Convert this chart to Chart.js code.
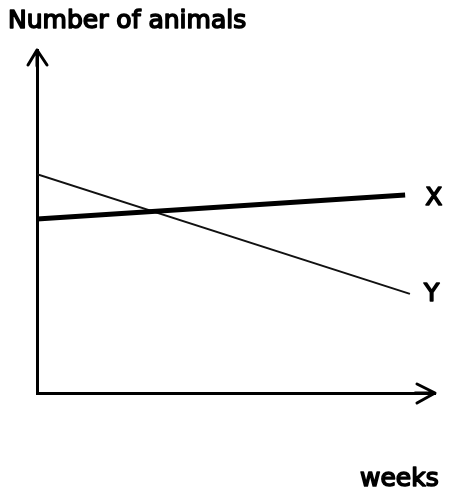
<!DOCTYPE html>
<html>
<head>
<meta charset="utf-8">
<script src="https://cdn.jsdelivr.net/npm/chart.js@4/dist/chart.umd.min.js"></script>
<style>
  html, body { margin: 0; padding: 0; background: #fff; }
  #wrap { width: 453px; height: 494px; }
</style>
</head>
<body>
<div id="wrap"><canvas id="c" width="453" height="494"></canvas></div>
<script>
// Population of two animal species over time (schematic)
const seriesNames = ['X', 'Y'];
const weeksX = [0, 9.25];
const animalsX = [5.07, 5.77];
const weeksY = [0, 9.37];
const animalsY = [6.38, 2.89];

const yAxisTitle = 'Number of animals';
const xAxisTitle = 'weeks';

const toPoints = (xs, ys) => xs.map((x, i) => ({ x: x, y: ys[i] }));

const FONT = '25px "DejaVu Sans", sans-serif';

function heavyText(ctx, text, x, y) {
  ctx.fillText(text, x, y);
  ctx.strokeText(text, x, y);
}

const sketchDecor = {
  id: 'sketchDecor',
  afterDraw(chart) {
    const ctx = chart.ctx;
    const area = chart.chartArea;
    const xs = chart.scales.x;
    const ys = chart.scales.y;
    ctx.save();
    ctx.strokeStyle = '#000';
    ctx.fillStyle = '#000';
    ctx.lineCap = 'round';
    ctx.lineJoin = 'round';

    // arrowheads at the end of each axis
    ctx.lineWidth = 3;
    const ox = xs.getPixelForValue(0);
    const oy = ys.getPixelForValue(0);
    ctx.beginPath();
    ctx.moveTo(ox - 9, area.top + 15);
    ctx.lineTo(ox, area.top);
    ctx.lineTo(ox + 10, area.top + 15);
    ctx.moveTo(ox, area.top);
    ctx.lineTo(ox, area.top + 16);
    ctx.stroke();
    ctx.beginPath();
    ctx.moveTo(area.right - 18, oy - 9);
    ctx.lineTo(area.right, oy);
    ctx.lineTo(area.right - 18, oy + 10);
    ctx.moveTo(area.right, oy);
    ctx.lineTo(area.right - 20, oy);
    ctx.stroke();

    // text
    ctx.font = FONT;
    ctx.lineWidth = 1.6;
    ctx.textBaseline = 'alphabetic';
    ctx.textAlign = 'left';
    heavyText(ctx, yAxisTitle, 8, 28);
    heavyText(ctx, xAxisTitle, 360, 486);

    // series labels next to the last point of each line
    const offsets = [[20, 10], [14, 7]];
    chart.data.datasets.forEach((ds, i) => {
      const meta = chart.getDatasetMeta(i);
      const last = meta.data[meta.data.length - 1];
      heavyText(ctx, seriesNames[i], last.x + offsets[i][0], last.y + offsets[i][1]);
    });
    ctx.restore();
  }
};

new Chart(document.getElementById('c'), {
  type: 'line',
  data: {
    datasets: [
      {
        label: seriesNames[0],
        data: toPoints(weeksX, animalsX),
        borderColor: '#000',
        borderWidth: 5,
        pointRadius: 0,
        tension: 0
      },
      {
        label: seriesNames[1],
        data: toPoints(weeksY, animalsY),
        borderColor: '#111',
        borderWidth: 2,
        pointRadius: 0,
        tension: 0
      }
    ]
  },
  options: {
    responsive: false,
    animation: false,
    events: [],
    layout: { padding: { left: 37, right: 18, top: 50, bottom: 101 } },
    plugins: {
      legend: { display: false },
      tooltip: { enabled: false },
      title: { display: false }
    },
    scales: {
      x: {
        type: 'linear',
        min: 0,
        max: 10,
        grid: { display: false, drawTicks: false },
        ticks: { display: false },
        border: { display: true, color: '#000', width: 3 }
      },
      y: {
        type: 'linear',
        min: 0,
        max: 10,
        grid: { display: false, drawTicks: false },
        ticks: { display: false },
        border: { display: true, color: '#000', width: 3 }
      }
    }
  },
  plugins: [sketchDecor]
});
</script>
</body>
</html>
